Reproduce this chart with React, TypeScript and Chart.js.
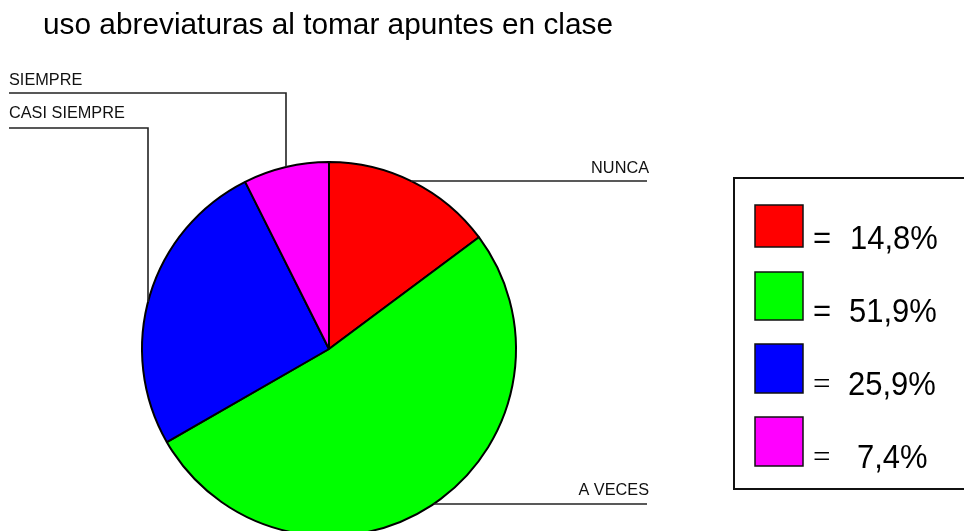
import React, { useEffect, useRef } from "react";
import { Chart, registerables } from "chart.js";

Chart.register(...registerables);

const TITLE = "uso abreviaturas al tomar apuntes en clase";
const categories = ["NUNCA", "A VECES", "CASI SIEMPRE", "SIEMPRE"];
const values = [14.8, 51.9, 25.9, 7.4];
const valueLabels = ["14,8%", "51,9%", "25,9%", "7,4%"];
const colors = ["#FF0000", "#00FF00", "#0000FF", "#FF00FF"];

// label leader layout (screen coords)
const leaderLayout = [
  { kind: "right", lineY: 181, endX: 647, textY: 173 },
  { kind: "right", lineY: 504, endX: 647, textY: 495 },
  { kind: "elbow", lineY: 128, startX: 9, elbowX: 148, textY: 118 },
  { kind: "elbow", lineY: 93, startX: 9, elbowX: 286, textY: 85 },
];

// legend rows: square top/bottom
const legendRows = [
  { top: 205, bottom: 247, textX: 850, eqBold: true },
  { top: 272, bottom: 320, textX: 849, eqBold: true },
  { top: 344, bottom: 393, textX: 848, eqBold: false },
  { top: 417, bottom: 466, textX: 857, eqBold: false },
];

const SANS = "'Liberation Sans', Arial, sans-serif";
const SERIF = "'Liberation Serif', 'Times New Roman', serif";

function drawText(
  ctx: CanvasRenderingContext2D,
  text: string,
  x: number,
  y: number,
  font: string,
  align: "left" | "right",
  targetW: number | null = null,
  sy = 1
) {
  ctx.save();
  ctx.font = font;
  ctx.textBaseline = "alphabetic";
  ctx.textAlign = "left";
  const w = ctx.measureText(text).width;
  const sx = targetW ? targetW / w : 1;
  const left = align === "right" ? x - w * sx : x;
  ctx.translate(left, y);
  ctx.scale(sx, sy);
  ctx.fillText(text, 0, 0);
  ctx.restore();
}

const overlayPlugin = {
  id: "overlay",
  afterDraw(chart: any) {
    const ctx: CanvasRenderingContext2D = chart.ctx;
    const meta = chart.getDatasetMeta(0);
    const arc = meta.data[0];
    const cx = arc.x;
    const cy = arc.y;
    const r = arc.outerRadius;

    ctx.save();
    ctx.fillStyle = "#000";
    // title
    drawText(ctx, TITLE, 43, 34, `29.5px ${SANS}`, "left", 570);

    // leader lines & labels
    ctx.strokeStyle = "#222";
    ctx.lineWidth = 1.6;
    categories.forEach((name, i) => {
      const L: any = leaderLayout[i];
      ctx.fillStyle = "#111";
      if (L.kind === "right") {
        const dy = L.lineY - cy;
        const sx = cx + Math.sqrt(Math.max(r * r - dy * dy, 0));
        ctx.beginPath();
        ctx.moveTo(sx, L.lineY);
        ctx.lineTo(L.endX, L.lineY);
        ctx.stroke();
        drawText(ctx, name, L.endX + 2, L.textY, `16.3px ${SANS}`, "right");
      } else {
        const dx = L.elbowX - cx;
        const ey = cy - Math.sqrt(Math.max(r * r - dx * dx, 0));
        ctx.beginPath();
        ctx.moveTo(L.startX, L.lineY);
        ctx.lineTo(L.elbowX, L.lineY);
        ctx.lineTo(L.elbowX, ey);
        ctx.stroke();
        drawText(ctx, name, L.startX, L.textY, `16.3px ${SANS}`, "left");
      }
    });

    // legend box
    ctx.strokeStyle = "#111";
    ctx.lineWidth = 2;
    ctx.strokeRect(734, 178, 260, 311);
    legendRows.forEach((row, i) => {
      ctx.fillStyle = colors[i];
      ctx.fillRect(755, row.top, 48, row.bottom - row.top);
      ctx.strokeStyle = "#111";
      ctx.lineWidth = 1.5;
      ctx.strokeRect(755, row.top, 48, row.bottom - row.top);
      ctx.fillStyle = "#000";
      drawText(ctx, "=", 813, row.bottom + 1, row.eqBold ? `31px ${SANS}` : `31px ${SERIF}`, "left");
      drawText(ctx, valueLabels[i], row.textX, row.bottom + 2, `31px ${SANS}`, "left", null, 1.07);
    });
    ctx.restore();
  },
};

export default function App() {
  const ref = useRef<HTMLCanvasElement | null>(null);
  useEffect(() => {
    if (!ref.current) return;
    const chart = new Chart(ref.current, {
      type: "pie",
      data: {
        labels: categories,
        datasets: [
          {
            data: values,
            backgroundColor: colors,
            borderColor: "#000",
            borderWidth: 2,
            borderAlign: "center",
          },
        ],
      },
      options: {
        responsive: false,
        animation: false,
        devicePixelRatio: 1,
        layout: { padding: { left: 141, right: 447, top: 161, bottom: 33 } },
        plugins: {
          legend: { display: false },
          tooltip: { enabled: false },
          title: { display: false },
        },
      },
      plugins: [overlayPlugin],
    });
    return () => chart.destroy();
  }, []);
  return (
    <div
      style={{
        position: "fixed",
        left: 0,
        top: 0,
        width: 964,
        height: 531,
        overflow: "hidden",
        background: "#fff",
      }}
    >
      <canvas ref={ref} width={964} height={570} style={{ display: "block", width: 964, height: 570 }} />
    </div>
  );
}
